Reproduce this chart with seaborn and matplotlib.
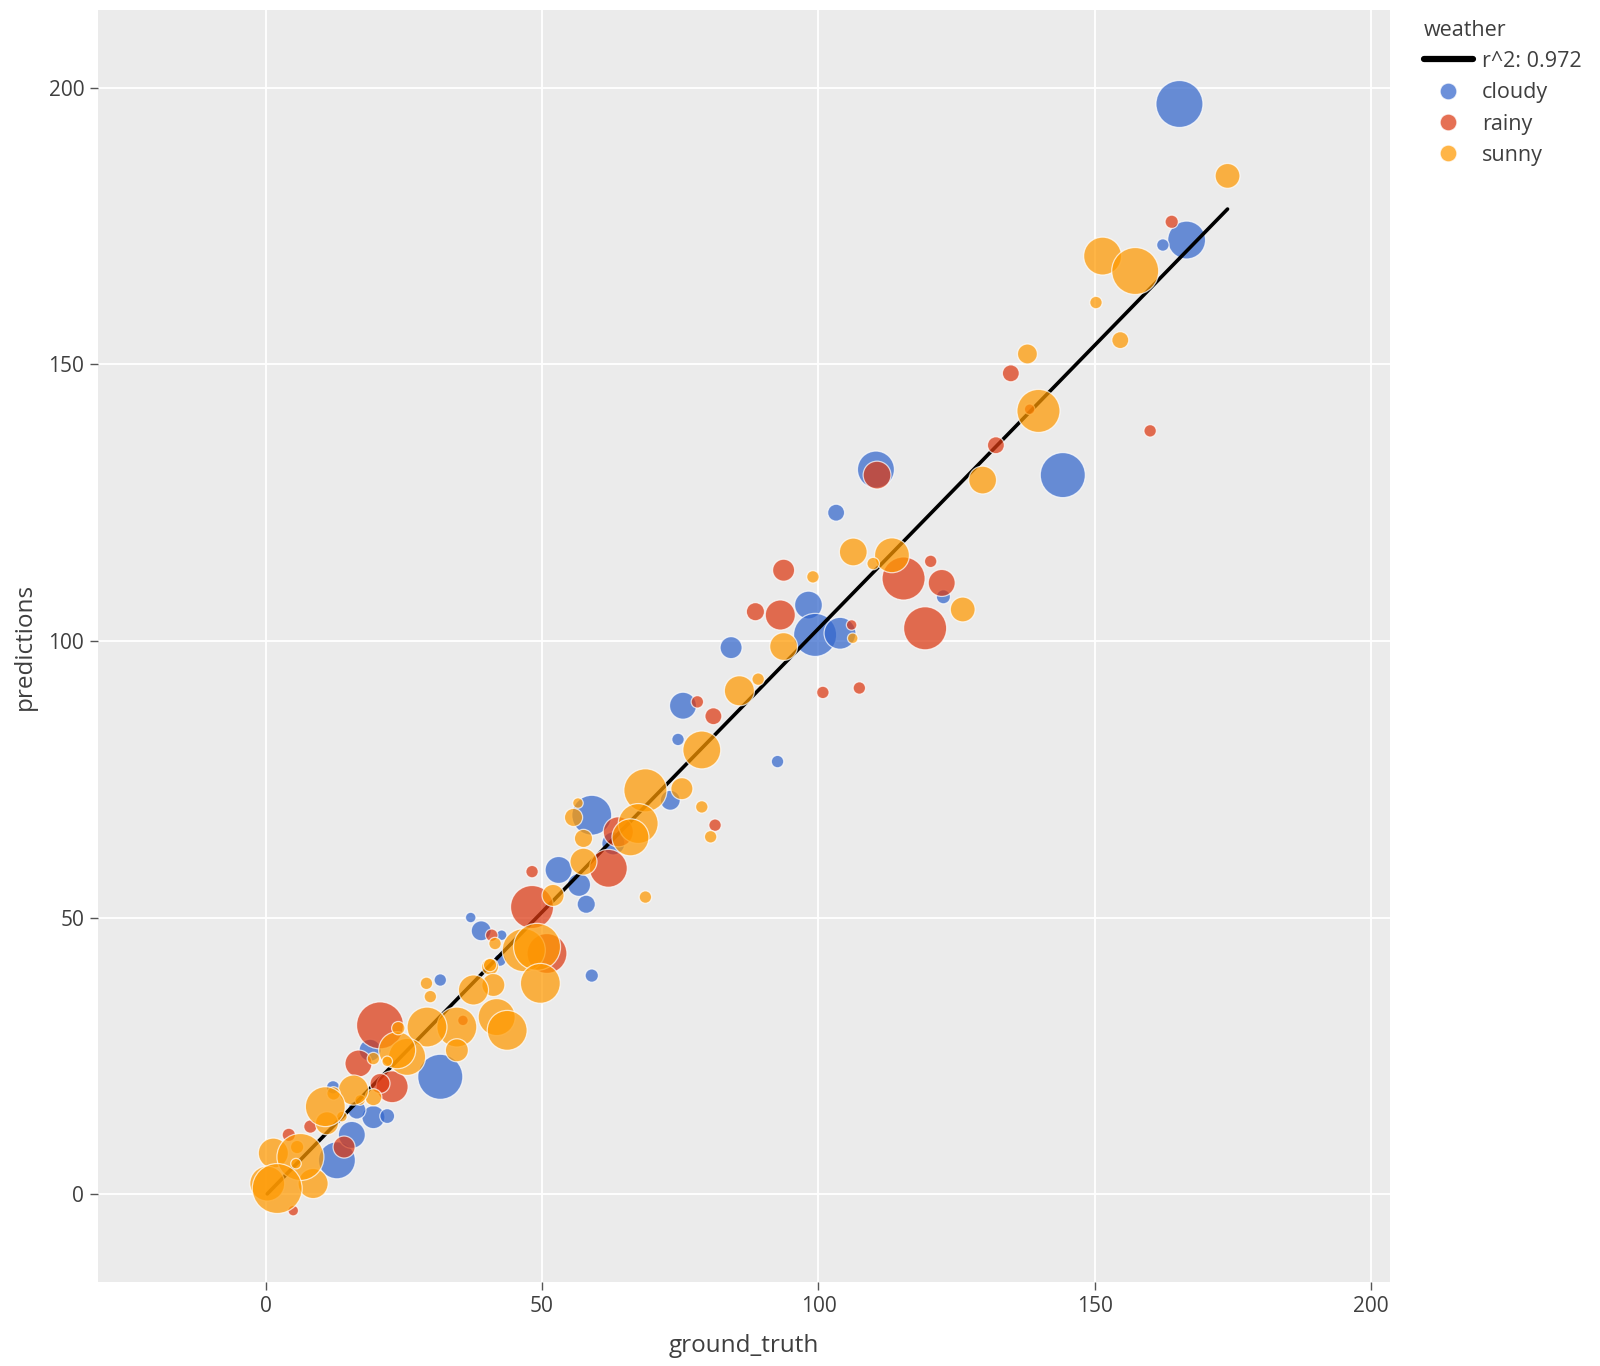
import numpy as np
import pandas as pd
import matplotlib.pyplot as plt
from matplotlib.lines import Line2D
import seaborn as sns

# ----------------------------
# data
# ----------------------------
weather_order = ["cloudy", "rainy", "sunny"]
palette = {"cloudy": "#3366CC", "rainy": "#DC3912", "sunny": "#FF9900"}
r2_label = "r^2: 0.972"

cloudy_truth = [165.3, 166.6, 162.3, 144.2, 110.4, 103.2, 122.6, 98.2, 99.4, 103.9,
                84.2, 75.5, 74.6, 92.6, 59.0, 73.2, 62.9, 53.0, 56.7, 58.0,
                59.0, 37.1, 39.0, 42.7, 31.6, 31.6, 12.9, 15.6, 19.5, 22.0,
                16.5, 18.9, 42.4, 12.2]
cloudy_pred = [197.1, 172.5, 171.6, 130.0, 131.0, 123.2, 108.0, 106.5, 101.1, 101.4,
               98.8, 88.3, 82.2, 78.2, 68.5, 71.2, 63.4, 58.6, 55.9, 52.4,
               39.5, 50.0, 47.6, 46.8, 38.7, 21.2, 6.1, 10.7, 13.9, 14.1,
               15.2, 26.0, 42.3, 19.3]
cloudy_size = [100, 65, 7, 92, 62, 13, 9, 35, 84, 46,
               22, 33, 7, 7, 72, 18, 24, 33, 24, 15,
               8, 5, 18, 5, 7, 92, 62, 33, 24, 10,
               15, 22, 7, 8]

rainy_truth = [163.9, 134.8, 138.2, 132.1, 160.0, 110.6, 93.7, 115.4, 120.3, 122.3,
               119.3, 93.1, 88.6, 106.0, 100.8, 107.4, 78.1, 81.0, 81.3, 63.8,
               62.0, 48.2, 48.2, 40.9, 50.9, 20.7, 16.8, 22.9, 20.7, 14.2,
               8.1, 4.2, 35.7, 5.0]
rainy_pred = [175.8, 148.4, 141.9, 135.4, 138.0, 130.0, 112.8, 111.3, 114.4, 110.5,
              102.3, 104.7, 105.3, 102.9, 90.7, 91.5, 89.0, 86.4, 66.7, 65.5,
              58.9, 58.3, 51.9, 46.8, 43.5, 30.5, 23.6, 19.4, 20.0, 8.5,
              12.2, 10.7, 31.4, -3.0]
rainy_size = [8, 13, 5, 13, 7, 35, 22, 84, 7, 33,
              84, 41, 15, 5, 7, 7, 7, 13, 7, 41,
              65, 7, 84, 7, 72, 100, 33, 46, 18, 22,
              8, 8, 5, 5]

sunny_truth = [174.0, 151.4, 157.3, 150.2, 154.6, 137.8, 139.8, 129.7, 106.3, 113.3,
               109.9, 126.1, 99.0, 93.7, 106.2, 85.7, 89.1, 78.9, 68.7, 75.3,
               78.9, 80.5, 55.7, 56.5, 57.5, 67.4, 66.0, 57.5, 52.0, 68.7,
               41.5, 46.7, 49.1, 49.7, 40.6, 41.2, 29.1, 29.8, 37.6, 41.8,
               43.7, 40.6, 34.6, 34.6, 29.2, 25.6, 23.8, 24.0, 19.5, 19.5,
               17.1, 15.9, 13.8, 12.3, 11.1, 10.8, 5.7, 8.6, 1.4, 6.3,
               0.3, 2.1, 5.5, 22.0]
sunny_pred = [184.1, 169.6, 166.9, 161.2, 154.4, 151.9, 141.6, 129.1, 116.1, 115.5,
              114.0, 105.7, 111.6, 99.0, 100.5, 91.0, 93.1, 80.3, 73.0, 73.3,
              70.0, 64.6, 68.1, 70.7, 64.3, 67.0, 64.5, 60.1, 54.0, 53.7,
              45.3, 44.1, 44.7, 38.1, 41.1, 37.8, 38.1, 35.7, 36.9, 32.0,
              29.6, 41.4, 30.2, 26.0, 30.2, 24.8, 26.0, 30.0, 24.5, 17.5,
              17.0, 18.8, 14.0, 18.2, 12.8, 15.8, 8.5, 1.9, 7.4, 6.7,
              1.9, 1.0, 5.5, 24.0]
sunny_size = [28, 65, 100, 7, 13, 18, 84, 35, 35, 55,
              7, 28, 7, 35, 5, 41, 7, 65, 84, 22,
              7, 7, 15, 5, 15, 72, 62, 33, 22, 7,
              7, 84, 100, 72, 13, 24, 7, 7, 41, 62,
              72, 8, 72, 24, 72, 62, 62, 8, 7, 13,
              5, 41, 5, 8, 24, 72, 8, 41, 41, 100,
              55, 113, 5, 5]

frames = []
for name, gt, pr, sz in [("cloudy", cloudy_truth, cloudy_pred, cloudy_size),
                         ("rainy", rainy_truth, rainy_pred, rainy_size),
                         ("sunny", sunny_truth, sunny_pred, sunny_size)]:
    frames.append(pd.DataFrame({"ground_truth": gt, "predictions": pr,
                                "size": sz, "weather": name}))
df = pd.concat(frames, ignore_index=True)

# ----------------------------
# style
# ----------------------------
sns.set_style("darkgrid", {"axes.facecolor": "#EBEBEB", "grid.color": "white",
                           "axes.edgecolor": "#EBEBEB"})
plt.rcParams["font.family"] = ["Open Sans", "DejaVu Sans"]
text_color = "#3f3f3f"

fig = plt.figure(figsize=(16, 13.66), dpi=100)
ax = fig.add_axes([0.0613, 0.0615, 0.8075, 0.9312])
ax.set_axisbelow(True)

size_max = df["size"].max()
common = dict(x="ground_truth", y="predictions", hue="weather", size="size",
              palette=palette, hue_order=weather_order,
              size_norm=(0, size_max), sizes=(0, 11.45 * size_max),
              alpha=0.72, edgecolor="white", linewidth=0.9, legend=False, ax=ax)

sns.scatterplot(data=df[df["weather"] == "cloudy"], zorder=2, **common)

# overall OLS trendline
slope, intercept = np.polyfit(df["ground_truth"], df["predictions"], 1)
xs = np.array([df["ground_truth"].min(), df["ground_truth"].max()])
ax.plot(xs, slope * xs + intercept, color="black", lw=2.6, zorder=2.5)

sns.scatterplot(data=df[df["weather"] != "cloudy"], zorder=3, **common)

ax.set_xlim(-30.3, 203.4)
ax.set_ylim(-15.9, 214.1)
ax.set_xticks([0, 50, 100, 150, 200])
ax.set_yticks([0, 50, 100, 150, 200])
ax.tick_params(axis="both", direction="out", length=6, width=1, color="#555555",
               labelcolor=text_color, labelsize=15, pad=4,
               bottom=True, left=True)
ax.grid(True, color="white", linewidth=1.3)
for s in ax.spines.values():
    s.set_visible(False)
ax.set_xlabel("ground_truth", fontsize=17.5, color=text_color, labelpad=12)
ax.set_ylabel("predictions", fontsize=17.5, color=text_color, labelpad=8)

# legend
handles = [Line2D([0], [0], color="black", lw=4.5, label=r2_label)]
for w in weather_order:
    handles.append(Line2D([0], [0], marker="o", linestyle="", markersize=12,
                          markerfacecolor=palette[w], markeredgecolor="white",
                          markeredgewidth=0.8, alpha=0.72, label=w))
leg = fig.legend(handles=handles, title="weather", loc="upper left",
                 bbox_to_anchor=(1415 / 1600, 1 - 11 / 1366), frameon=False,
                 fontsize=15.5, title_fontsize=15.5, handlelength=2.3,
                 handletextpad=0.4, labelspacing=0.48, alignment="left",
                 borderaxespad=0)
for t in leg.get_texts():
    t.set_color(text_color)
leg.get_title().set_color(text_color)

plt.savefig("out.png", dpi=100)
